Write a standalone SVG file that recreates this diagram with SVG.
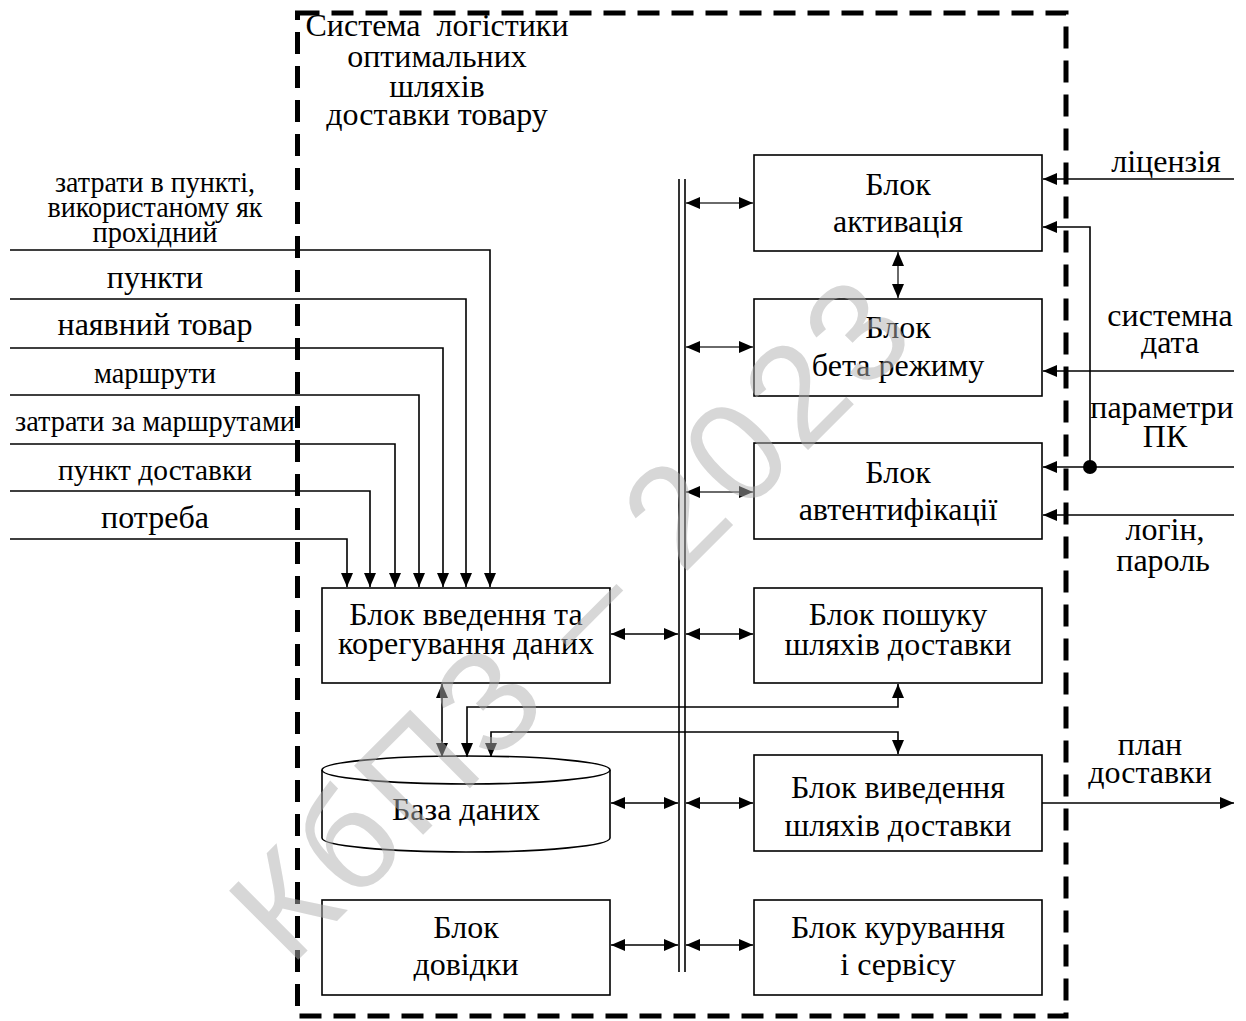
<svg xmlns="http://www.w3.org/2000/svg" width="1246" height="1021" viewBox="0 0 1246 1021">
  <defs>
    <marker id="ah" viewBox="0 0 14 12" refX="14" refY="6" markerWidth="14" markerHeight="12" markerUnits="userSpaceOnUse" orient="auto-start-reverse">
      <path d="M0,0 L14,6 L0,12 z" fill="#000"/>
    </marker>
  </defs>
  <style>
    text { font-family: "Liberation Serif", "Times New Roman", serif; font-size: 32px; fill: #000; text-anchor: middle; }
    .cond { font-size: 30px; }
    .box { fill: #fff; stroke: #000; stroke-width: 1.6; }
    .ln { fill: none; stroke: #000; stroke-width: 1.6; }
    .thin { fill: none; stroke: #6a6a6a; stroke-width: 2; }
    .bus { fill: none; stroke: #000; stroke-width: 1.6; }
    .frame { fill: none; stroke: #000; stroke-width: 5; stroke-dasharray: 22 12; }
    .wm { font-family: "Liberation Sans", Arial, sans-serif; font-size: 142px; fill: #b0b0b0; fill-opacity: 0.5; text-anchor: start; }
  </style>

  <rect width="1246" height="1021" fill="#fff"/>

  <!-- system boundary -->
  <rect class="frame" x="297.5" y="13" width="768.5" height="1003"/>
  <g id="title">
    <text x="437" y="36" xml:space="preserve">Система  логістики</text>
    <text x="437" y="67">оптимальних</text>
    <text x="437" y="97">шляхів</text>
    <text x="437" y="125">доставки товару</text>
  </g>

  <!-- input labels on the left -->
  <g id="inputs-left">
    <text class="cond" x="155" y="192" textLength="200" lengthAdjust="spacingAndGlyphs">затрати в пункті,</text>
    <text class="cond" x="155" y="217" textLength="215" lengthAdjust="spacingAndGlyphs">використаному як</text>
    <text class="cond" x="155" y="242" textLength="125" lengthAdjust="spacingAndGlyphs">прохідний</text>
    <text x="155" y="288">пункти</text>
    <text x="155" y="335">наявний товар</text>
    <text class="cond" x="155" y="383" textLength="122" lengthAdjust="spacingAndGlyphs">маршрути</text>
    <text class="cond" x="155" y="431" textLength="280" lengthAdjust="spacingAndGlyphs">затрати за маршрутами</text>
    <text class="cond" x="155" y="480" textLength="194" lengthAdjust="spacingAndGlyphs">пункт доставки</text>
    <text x="155" y="528">потреба</text>
  </g>

  <!-- labels on the right -->
  <g id="inputs-right">
    <text x="1166" y="172">ліцензія</text>
    <text x="1170" y="326">системна</text>
    <text x="1170" y="353">дата</text>
    <text x="1162" y="418">параметри</text>
    <text x="1165" y="447">ПК</text>
    <text x="1165" y="540">логін,</text>
    <text x="1163" y="571">пароль</text>
    <text x="1150" y="755">план</text>
    <text x="1150" y="783">доставки</text>
  </g>

  <!-- blocks -->
  <g id="block-activation">
    <rect class="box" x="754" y="155" width="288" height="96"/>
    <text x="898" y="195">Блок</text>
    <text x="898" y="232">активація</text>
  </g>
  <g id="block-beta">
    <rect class="box" x="754" y="299" width="288" height="97"/>
    <text x="898" y="338">Блок</text>
    <text x="898" y="376">бета режиму</text>
  </g>
  <g id="block-auth">
    <rect class="box" x="754" y="443" width="288" height="96"/>
    <text x="898" y="483">Блок</text>
    <text x="898" y="520">автентифікації</text>
  </g>
  <g id="block-search">
    <rect class="box" x="754" y="588" width="288" height="95"/>
    <text x="898" y="625">Блок пошуку</text>
    <text x="898" y="655">шляхів доставки</text>
  </g>
  <g id="block-output">
    <rect class="box" x="754" y="755" width="288" height="96"/>
    <text x="898" y="798">Блок виведення</text>
    <text x="898" y="836">шляхів доставки</text>
  </g>
  <g id="block-service">
    <rect class="box" x="754" y="900" width="288" height="95"/>
    <text x="898" y="938">Блок курування</text>
    <text x="898" y="975">і сервісу</text>
  </g>
  <g id="block-input">
    <rect class="box" x="322" y="588" width="288" height="95"/>
    <text x="466" y="625">Блок введення та</text>
    <text x="466" y="654">корегування даних</text>
  </g>
  <g id="database">
    <path class="box" d="M322,770 L322,838 A144,14 0 0 0 610,838 L610,770 A144,14 0 0 0 322,770 Z"/>
    <path class="ln" d="M322,770 A144,14 0 0 0 610,770"/>
    <text x="466" y="820">База даних</text>
  </g>
  <g id="block-help">
    <rect class="box" x="322" y="900" width="288" height="95"/>
    <text x="466" y="938">Блок</text>
    <text x="466" y="975">довідки</text>
  </g>

  <!-- connectors -->
  <g id="connectors">
    <!-- common bus -->
    <line class="bus" x1="679" y1="179" x2="679" y2="972"/>
    <line class="bus" x1="685" y1="179" x2="685" y2="972"/>

    <!-- inputs into the data entry block -->
    <polyline class="ln" points="10,250 490,250 490,587" marker-end="url(#ah)"/>
    <polyline class="ln" points="10,299 466,299 466,587" marker-end="url(#ah)"/>
    <polyline class="ln" points="10,348 443,348 443,587" marker-end="url(#ah)"/>
    <polyline class="ln" points="10,395 419,395 419,587" marker-end="url(#ah)"/>
    <polyline class="ln" points="10,444 395,444 395,587" marker-end="url(#ah)"/>
    <polyline class="ln" points="10,491 370,491 370,587" marker-end="url(#ah)"/>
    <polyline class="ln" points="10,539 347,539 347,587" marker-end="url(#ah)"/>

    <!-- bus links, right column -->
    <line class="thin" x1="686" y1="203" x2="753" y2="203" marker-start="url(#ah)" marker-end="url(#ah)"/>
    <line class="thin" x1="686" y1="347" x2="753" y2="347" marker-start="url(#ah)" marker-end="url(#ah)"/>
    <line class="thin" x1="686" y1="492" x2="753" y2="492" marker-start="url(#ah)" marker-end="url(#ah)"/>
    <line class="ln" x1="686" y1="634" x2="753" y2="634" marker-start="url(#ah)" marker-end="url(#ah)"/>
    <line class="ln" x1="686" y1="803" x2="753" y2="803" marker-start="url(#ah)" marker-end="url(#ah)"/>
    <line class="ln" x1="686" y1="945" x2="753" y2="945" marker-start="url(#ah)" marker-end="url(#ah)"/>

    <!-- bus links, left column -->
    <line class="ln" x1="611" y1="634" x2="678" y2="634" marker-start="url(#ah)" marker-end="url(#ah)"/>
    <line class="ln" x1="611" y1="803" x2="678" y2="803" marker-start="url(#ah)" marker-end="url(#ah)"/>
    <line class="ln" x1="611" y1="945" x2="678" y2="945" marker-start="url(#ah)" marker-end="url(#ah)"/>

    <!-- activation / beta mode -->
    <line class="thin" x1="898" y1="252" x2="898" y2="298" marker-start="url(#ah)" marker-end="url(#ah)"/>

    <!-- data entry / database -->
    <line class="ln" x1="442" y1="684" x2="442" y2="757" marker-start="url(#ah)" marker-end="url(#ah)"/>
    <!-- database / route search -->
    <polyline class="ln" points="467,757 467,707 898,707 898,684" marker-start="url(#ah)" marker-end="url(#ah)"/>
    <!-- database / route output -->
    <polyline class="ln" points="491,757 491,732 898,732 898,754" marker-start="url(#ah)" marker-end="url(#ah)"/>

    <!-- external signals on the right -->
    <line class="ln" x1="1234" y1="179" x2="1043" y2="179" marker-end="url(#ah)"/>
    <polyline class="ln" points="1090,467 1090,227 1043,227" marker-end="url(#ah)"/>
    <line class="ln" x1="1234" y1="371" x2="1043" y2="371" marker-end="url(#ah)"/>
    <line class="ln" x1="1234" y1="467" x2="1043" y2="467" marker-end="url(#ah)"/>
    <circle cx="1090" cy="467" r="7" fill="#000"/>
    <line class="ln" x1="1234" y1="515" x2="1043" y2="515" marker-end="url(#ah)"/>

    <!-- delivery plan output -->
    <line class="ln" x1="1042" y1="803" x2="1234" y2="803" marker-end="url(#ah)"/>
  </g>

  <!-- watermark -->
  <text class="wm" transform="translate(290,968) rotate(-45)" x="0" y="0" textLength="890" lengthAdjust="spacing">КбПЗ – 2023</text>
</svg>
